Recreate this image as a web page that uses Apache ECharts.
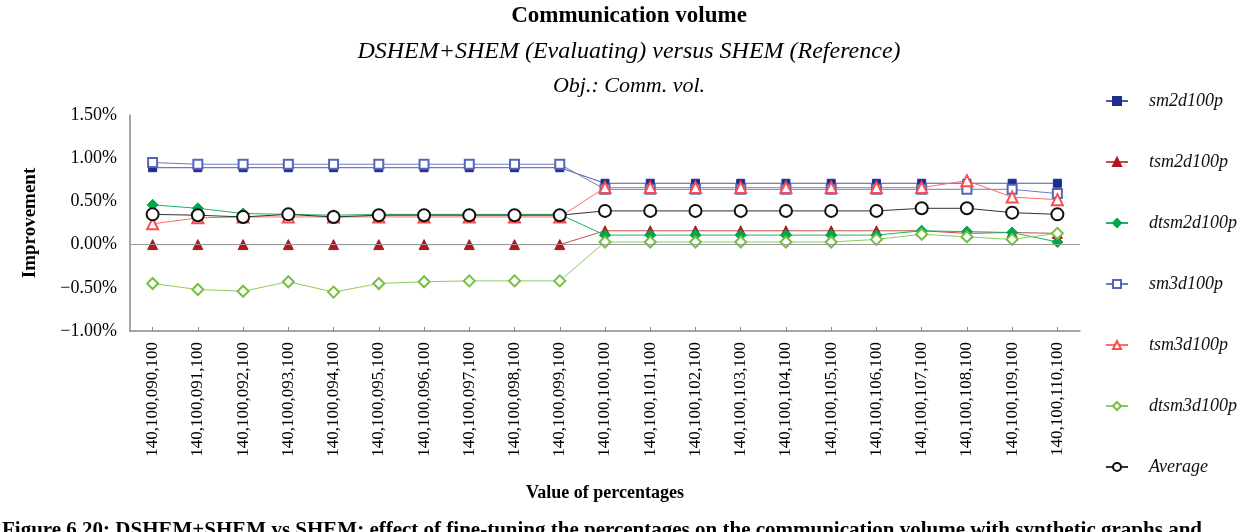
<!DOCTYPE html>
<html>
<head>
<meta charset="utf-8">
<script src="https://cdn.jsdelivr.net/npm/echarts@6/dist/echarts.min.js"></script>
<style>html,body{margin:0;padding:0;background:#fff;}#c{width:1258px;height:532px;}</style>
</head>
<body>
<div id="c"></div>
<script>
const categories = ['140,100,090,100','140,100,091,100','140,100,092,100','140,100,093,100','140,100,094,100','140,100,095,100','140,100,096,100','140,100,097,100','140,100,098,100','140,100,099,100','140,100,100,100','140,100,101,100','140,100,102,100','140,100,103,100','140,100,104,100','140,100,105,100','140,100,106,100','140,100,107,100','140,100,108,100','140,100,109,100','140,100,110,100'];
const sm2d100p   = [0.89,0.89,0.89,0.89,0.89,0.89,0.89,0.89,0.89,0.89,0.71,0.71,0.71,0.71,0.71,0.71,0.71,0.71,0.71,0.71,0.71];
const tsm2d100p  = [0.00,0.00,0.00,0.00,0.00,0.00,0.00,0.00,0.00,0.00,0.16,0.16,0.16,0.16,0.16,0.16,0.16,0.16,0.13,0.14,0.13];
const dtsm2d100p = [0.46,0.42,0.36,0.35,0.34,0.35,0.35,0.35,0.35,0.35,0.11,0.11,0.11,0.11,0.11,0.11,0.11,0.16,0.15,0.14,0.03];
const sm3d100p   = [0.95,0.93,0.93,0.93,0.93,0.93,0.93,0.93,0.93,0.93,0.64,0.64,0.64,0.64,0.64,0.64,0.64,0.64,0.64,0.64,0.59];
const tsm3d100p  = [0.24,0.31,0.32,0.32,0.32,0.32,0.32,0.32,0.32,0.32,0.66,0.66,0.66,0.66,0.66,0.66,0.66,0.66,0.74,0.55,0.52];
const dtsm3d100p = [-0.45,-0.52,-0.54,-0.43,-0.55,-0.45,-0.43,-0.42,-0.42,-0.42,0.03,0.03,0.03,0.03,0.03,0.03,0.06,0.12,0.09,0.06,0.13];
const average    = [0.35,0.34,0.32,0.35,0.32,0.34,0.34,0.34,0.34,0.34,0.39,0.39,0.39,0.39,0.39,0.39,0.39,0.42,0.42,0.37,0.35];
const yTicks = [-1.0, -0.5, 0, 0.5, 1.0, 1.5];

const SERIF = '"Liberation Serif", "DejaVu Serif", serif';
const chart = echarts.init(document.getElementById('c'), null, {renderer: 'canvas'});

function mk(name, data, symbol, color, lineColor, size, extra) {
  return Object.assign({
    name: name, type: 'line', data: data, symbol: symbol, symbolSize: size,
    showAllSymbol: true,
    itemStyle: {color: color, borderColor: color, borderWidth: 1},
    lineStyle: {color: lineColor, width: 1},
    emphasis: {disabled: true}
  }, extra || {});
}

chart.setOption({
  animation: false,
  backgroundColor: '#fff',
  title: [
    {text: 'Communication volume', left: 'center', top: 0,
     textStyle: {fontFamily: SERIF, fontWeight: 'bold', fontSize: 23, color: '#000'}},
    {text: 'DSHEM+SHEM (Evaluating) versus SHEM (Reference)', left: 'center', top: 35,
     textStyle: {fontFamily: SERIF, fontStyle: 'italic', fontWeight: 'normal', fontSize: 24, color: '#000'}},
    {text: 'Obj.: Comm. vol.', left: 'center', top: 70,
     textStyle: {fontFamily: SERIF, fontStyle: 'italic', fontWeight: 'normal', fontSize: 22, color: '#000'}}
  ],
  legend: {
    orient: 'vertical', left: 1100, top: 86,
    itemWidth: 22, itemHeight: 10, itemGap: 41,
    textStyle: {fontFamily: SERIF, fontStyle: 'italic', fontSize: 18, color: '#111', lineHeight: 20, padding: [0,0,0,16]},
    data: ['sm2d100p','tsm2d100p','dtsm2d100p','sm3d100p','tsm3d100p','dtsm3d100p','Average']
  },
  grid: {left: 130, right: 178, top: 115, bottom: 201, containLabel: false},
  xAxis: {
    type: 'category', data: categories, boundaryGap: true,
    name: 'Value of percentages', nameLocation: 'middle', nameGap: 153,
    nameTextStyle: {fontFamily: SERIF, fontWeight: 'bold', fontSize: 18, color: '#000'},
    axisLine: {onZero: false, lineStyle: {color: '#888', width: 1.5}},
    axisTick: {show: true, inside: true, alignWithLabel: true, length: 4, lineStyle: {color: '#888'}},
    axisLabel: {rotate: 90, interval: 0, margin: 11, fontFamily: SERIF, fontSize: 17, color: '#000'},
    splitLine: {show: false}
  },
  yAxis: {
    type: 'value', min: -1.0, max: 1.5, interval: 0.5,
    name: 'Improvement', nameLocation: 'middle', nameGap: 90, nameRotate: 90,
    nameTextStyle: {fontFamily: SERIF, fontWeight: 'bold', fontSize: 19, color: '#000'},
    axisLine: {show: true, lineStyle: {color: '#888', width: 1.5}},
    axisTick: {show: false},
    splitLine: {show: false},
    axisLabel: {
      margin: 13, fontFamily: SERIF, fontSize: 18, color: '#000',
      formatter: function (v) { return (v < 0 ? '\u2212' : '') + Math.abs(v).toFixed(2) + '%'; }
    }
  },
  series: [
    mk('sm2d100p', sm2d100p, 'rect', '#1f2d8a', '#4a5aa8', 8, {
      markLine: {silent: true, symbol: 'none', label: {show: false},
        lineStyle: {color: '#999', type: 'solid', width: 1}, data: [{yAxis: 0}]}
    }),
    mk('tsm2d100p', tsm2d100p, 'triangle', '#b0171f', '#c0504d', 10),
    mk('dtsm2d100p', dtsm2d100p, 'diamond', '#00a650', '#20b060', 11),
    mk('sm3d100p', sm3d100p, 'emptyRect', '#5565b8', '#6b7bc4', 9),
    mk('tsm3d100p', tsm3d100p, 'emptyTriangle', '#ff4a4a', '#ff6a6a', 11),
    mk('dtsm3d100p', dtsm3d100p, 'emptyDiamond', '#74c041', '#8ccc5c', 11),
    mk('Average', average, 'emptyCircle', '#111', '#333', 12)
  ],
  graphic: [
    {type: 'text', left: 2, top: 520,
     style: {text: 'Figure 6.20: DSHEM+SHEM vs SHEM: effect of fine-tuning the percentages on the communication volume with synthetic graphs and',
       font: 'bold 21px "Liberation Serif", serif', fill: '#000'}}
  ]
});
</script>
</body>
</html>
